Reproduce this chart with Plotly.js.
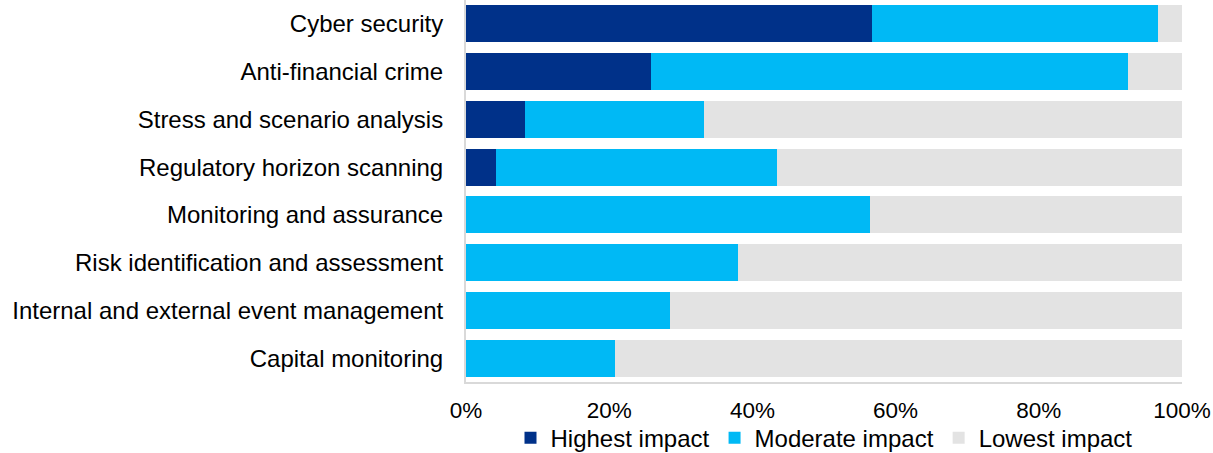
<!DOCTYPE html>
<html>
<head>
<meta charset="utf-8">
<script src="https://cdn.plot.ly/plotly-3.0.1.min.js"></script>
<style>html,body{margin:0;padding:0;background:#fff;}#chart{width:1213px;height:453px;}</style>
</head>
<body>
<div id="chart"></div>
<script>
const categories = [
  "Cyber security",
  "Anti-financial crime",
  "Stress and scenario analysis",
  "Regulatory horizon scanning",
  "Monitoring and assurance",
  "Risk identification and assessment",
  "Internal and external event management",
  "Capital monitoring"
];
const highestImpact  = [56.7, 25.8, 8.2, 4.2, 0, 0, 0, 0];
const moderateImpact = [39.9, 66.7, 25.0, 39.2, 56.4, 38.0, 28.5, 20.8];
const lowestImpact   = [3.4, 7.5, 66.8, 56.6, 43.6, 62.0, 71.5, 79.2];
const seriesNames = ["Highest impact", "Moderate impact", "Lowest impact"];
const xTickValues = [0, 20, 40, 60, 80, 100];
const xTickLabels = ["0%", "20%", "40%", "60%", "80%", "100%"];

const colors = ["#003189", "#00B9F5", "#E3E3E3"];
const font = "Liberation Sans, Arial, sans-serif";

const data = [highestImpact, moderateImpact, lowestImpact].map((vals, i) => ({
  type: "bar",
  orientation: "h",
  y: categories,
  x: vals,
  name: seriesNames[i],
  marker: {color: colors[i], line: {width: 0}},
  hoverinfo: "x+y+name"
}));

const layout = {
  width: 1213,
  height: 453,
  margin: {l: 466, r: 31, t: 0, b: 71, pad: 0, autoexpand: false},
  barmode: "stack",
  bargap: 0.225,
  paper_bgcolor: "#ffffff",
  plot_bgcolor: "#ffffff",
  font: {family: font, size: 24, color: "#000000"},
  xaxis: {
    range: [0, 100],
    tickvals: xTickValues,
    ticktext: xTickLabels,
    showgrid: false,
    zeroline: false,
    showline: true,
    linecolor: "#D9D9D9",
    linewidth: 2,
    ticks: "",
    automargin: false,
    ticklabelstandoff: 7,
    tickfont: {family: font, size: 22.5, color: "#000"}
  },
  yaxis: {
    autorange: "reversed",
    showgrid: false,
    zeroline: false,
    showline: true,
    linecolor: "#D9D9D9",
    linewidth: 2,
    ticks: "",
    automargin: false,
    ticklabelstandoff: 16,
    tickfont: {family: font, size: 24, color: "#000"}
  },
  showlegend: true,
  legend: {
    orientation: "h",
    x: 0.5,
    xanchor: "center",
    yref: "container",
    y: 0.033,
    yanchor: "middle",
    font: {family: font, size: 24, color: "#000"},
    traceorder: "normal",
    itemwidth: 30,
    bgcolor: "rgba(0,0,0,0)"
  }
};

Plotly.newPlot("chart", data, layout, {displayModeBar: false, staticPlot: true});
</script>
</body>
</html>
